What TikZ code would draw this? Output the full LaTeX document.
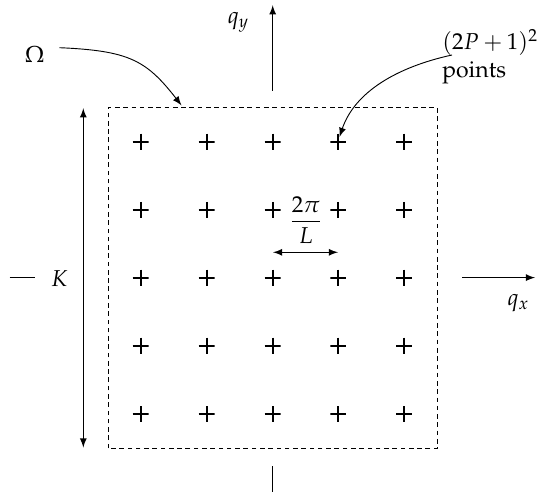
\documentclass[tikz,border=0pt]{standalone}
\usepackage[T1]{fontenc}
\usepackage{mathpazo}
\usetikzlibrary{arrows.meta}

\begin{document}
\begin{tikzpicture}[
  x=0.435pt, y=-0.435pt,
  lattice/.style={
    inner sep=0pt,
    minimum size=7pt,
    path picture={
      \draw[line width=0.85pt] (path picture bounding box.north) -- (path picture bounding box.south);
      \draw[line width=0.85pt] (path picture bounding box.west) -- (path picture bounding box.east);
    }
  },
  lbl/.style={inner sep=3pt},
  axis/.style={draw, line width=0.4pt},
  link/.style={draw, -latex, line width=0.4pt},
  region/.style={draw, dash pattern=on 2pt off 1.6pt, line width=0.4pt}
]
\useasboundingbox (0,0) rectangle (542,492);

\coordinate (bsw) at (108.2,448.3);
\coordinate (bne) at (437.3,107.5);
\draw[region] (bsw) rectangle (bne);

\node[lattice] (r1c1) at (140.7,141.7) {};
\node[lattice] (r1c2) at (206.7,141.7) {};
\node[lattice] (r1c3) at (272.7,141.7) {};
\node[lattice] (r1c4) at (338.4,141.7) {};
\node[lattice] (r1c5) at (404.1,141.7) {};
\node[lattice] (r2c1) at (140.7,209.8) {};
\node[lattice] (r2c2) at (206.7,209.8) {};
\node[lattice] (r2c3) at (272.7,209.8) {};
\node[lattice] (r2c4) at (338.4,209.8) {};
\node[lattice] (r2c5) at (404.1,209.8) {};
\node[lattice] (r3c1) at (140.7,277.6) {};
\node[lattice] (r3c2) at (206.7,277.6) {};
\node[lattice] (r3c3) at (272.7,277.6) {};
\node[lattice] (r3c4) at (338.4,277.6) {};
\node[lattice] (r3c5) at (404.1,277.6) {};
\node[lattice] (r4c1) at (140.7,345.7) {};
\node[lattice] (r4c2) at (206.7,345.7) {};
\node[lattice] (r4c3) at (272.7,345.7) {};
\node[lattice] (r4c4) at (338.4,345.7) {};
\node[lattice] (r4c5) at (404.1,345.7) {};
\node[lattice] (r5c1) at (140.7,414.1) {};
\node[lattice] (r5c2) at (206.7,414.1) {};
\node[lattice] (r5c3) at (272.7,414.1) {};
\node[lattice] (r5c4) at (338.4,414.1) {};
\node[lattice] (r5c5) at (404.1,414.1) {};

\node[lbl] (spacing) at (306,220) {$\displaystyle\frac{2\pi}{L}$};
\coordinate (gapl) at (273,252.3);
\coordinate (gapr) at (338,252.3);
\draw[link, latex-latex] (gapl) -- (gapr);

\node[lbl] (qy) at (238.5,22.5) {$q_y$};
\node[lbl] (qx) at (518.5,303.5) {$q_x$};
\coordinate (ytop) at (272.7,5.2);
\coordinate (ybase) at (272.7,90.6);
\coordinate (ylow) at (272.7,466);
\coordinate (yend) at (272.7,492);
\coordinate (xleft) at (9.7,277.6);
\coordinate (xstop) at (34.6,277.6);
\coordinate (xbase) at (462.2,277.6);
\coordinate (xtip) at (535.1,277.6);
\draw[link] (ybase) -- (ytop);
\draw[axis] (ylow) -- (yend);
\draw[axis] (xleft) -- (xstop);
\draw[link] (xbase) -- (xtip);

\node[lbl] (klabel) at (59.5,278.6) {$K$};
\coordinate (ktop) at (83.3,108.2);
\coordinate (kbot) at (83.3,447.6);
\draw[link, latex-latex] (ktop) -- (kbot);

\node[lbl] (omega) at (34.6,54.3) {$\Omega$};
\coordinate (omegafrom) at (59.5,47.7);
\coordinate (omegatip) at (181.5,105.4);
\draw[link] (omegafrom) .. controls +(70,3) and +(-35,-45) .. (omegatip);

\node[lbl, anchor=north west, align=left] (count) at (435,22) {$(2P+1)^2$\\points};
\coordinate (countfrom) at (452,55);
\coordinate (counttip) at (339.5,137);
\draw[link] (countfrom) .. controls +(-55,12) and +(15,-45) .. (counttip);

\end{tikzpicture}
\end{document}
